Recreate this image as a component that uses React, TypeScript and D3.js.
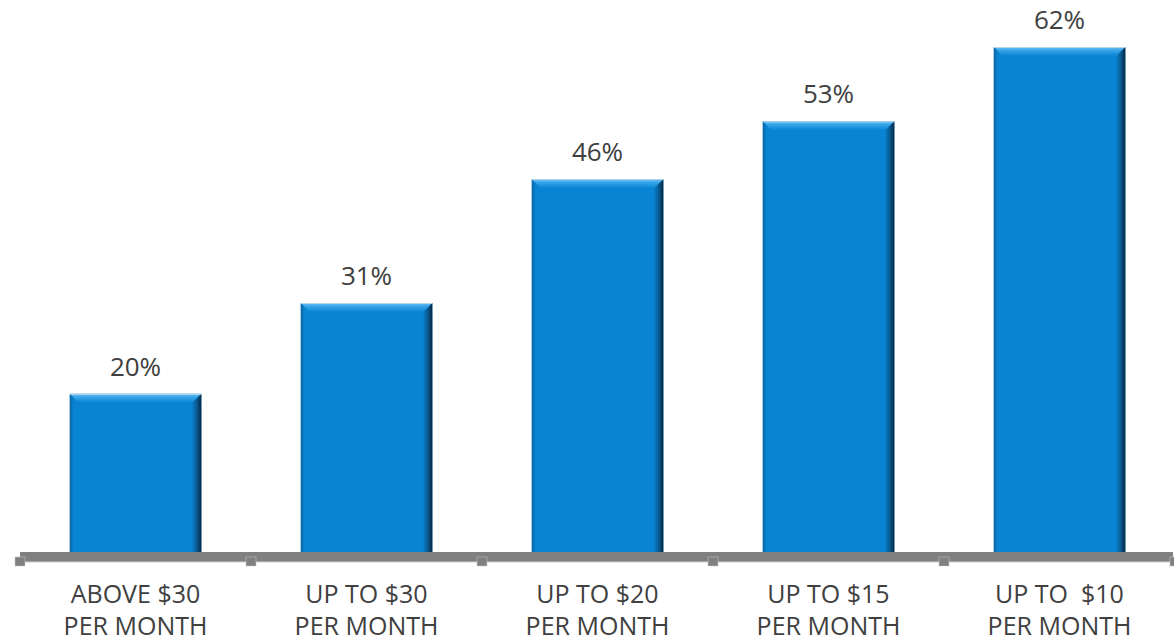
import React from "react";
import * as d3 from "d3";

const categories: string[][] = [
  ["ABOVE $30", "PER MONTH"],
  ["UP TO $30", "PER MONTH"],
  ["UP TO $20", "PER MONTH"],
  ["UP TO $15", "PER MONTH"],
  ["UP TO  $10", "PER MONTH"],
];
const values: number[] = [20, 31, 46, 53, 62];
const valueLabels: string[] = ["20%", "31%", "46%", "53%", "62%"];

const W = 1174;
const H = 643;
const FONT = "'Open Sans', 'Noto Sans', sans-serif";

export default function App() {
  const keys = categories.map((c, i) => String(i));
  const x = d3.scaleBand<string>().domain(keys).range([20, 1175]).paddingInner(0.43).paddingOuter(0.215);
  const y = d3.scaleLinear().domain([0, 62]).range([559, 47]);
  const bw = x.bandwidth();
  const baseTop = 552;
  const tickXs = d3.range(keys.length + 1).map((i) => 20 + i * x.step());

  return (
    <svg width={W} height={H} style={{ position: "absolute", left: 0, top: 0 }}>
      <defs>
        <linearGradient id="topBevel" x1="0" y1="0" x2="0" y2="1">
          <stop offset="0" stopColor="#6cc0f2" />
          <stop offset="0.35" stopColor="#3aa6ea" />
          <stop offset="1" stopColor="#0884d3" />
        </linearGradient>
        <linearGradient id="rightBevel" x1="0" y1="0" x2="1" y2="0">
          <stop offset="0" stopColor="#087cc6" />
          <stop offset="0.5" stopColor="#0a5a92" />
          <stop offset="1" stopColor="#06263f" />
        </linearGradient>
        <linearGradient id="leftBevel" x1="0" y1="0" x2="1" y2="0">
          <stop offset="0" stopColor="#9db8cc" />
          <stop offset="0.2" stopColor="#0c6aa8" />
          <stop offset="1" stopColor="#0884d3" />
        </linearGradient>
      </defs>
      <rect width={W} height={H} fill="#ffffff" />
      {values.map((v, i) => {
        const x0 = x(keys[i])!;
        const x1 = x0 + bw;
        const top = y(v);
        const bot = baseTop;
        const b = 9;
        return (
          <g key={i}>
            <rect x={x0} y={top} width={bw} height={bot - top} fill="#0884d3" />
            <polygon
              points={`${x0},${top} ${x1},${top} ${x1 - b},${top + b} ${x0 + b},${top + b}`}
              fill="url(#topBevel)"
            />
            <polygon
              points={`${x1},${top} ${x1},${bot} ${x1 - b},${bot} ${x1 - b},${top + b}`}
              fill="url(#rightBevel)"
            />
            <polygon
              points={`${x0},${top} ${x0 + 4},${top + 4} ${x0 + 4},${bot} ${x0},${bot}`}
              fill="url(#leftBevel)"
            />
            <line x1={x0} x2={x1} y1={top + 0.5} y2={top + 0.5} stroke="#b7d6ea" strokeWidth={1} />
            <text
              x={x0 + bw / 2}
              y={top - 18}
              textAnchor="middle"
              fontFamily={FONT}
              fontSize={26}
              fill="#404040"
            >
              {valueLabels[i]}
            </text>
          </g>
        );
      })}
      <rect x={20} y={552} width={1153} height={10} fill="#808080" />
      <line x1={20} x2={1173} y1={562} y2={562} stroke="#d0d0d0" strokeWidth={1} />
      {tickXs.map((tx, i) => (
        <rect key={i} x={tx - 5} y={557} width={10} height={9} fill="#808080" stroke="#c8c8c8" strokeWidth={0.5} />
      ))}
      {categories.map((lines, i) => {
        const cx = x(keys[i])! + bw / 2;
        return (
          <text key={i} textAnchor="middle" fontFamily={FONT} fontSize={25} fill="#404040">
            {lines.map((l, j) => (
              <tspan key={j} x={cx} y={603 + j * 32} style={{ whiteSpace: "pre" }}>
                {l}
              </tspan>
            ))}
          </text>
        );
      })}
    </svg>
  );
}
